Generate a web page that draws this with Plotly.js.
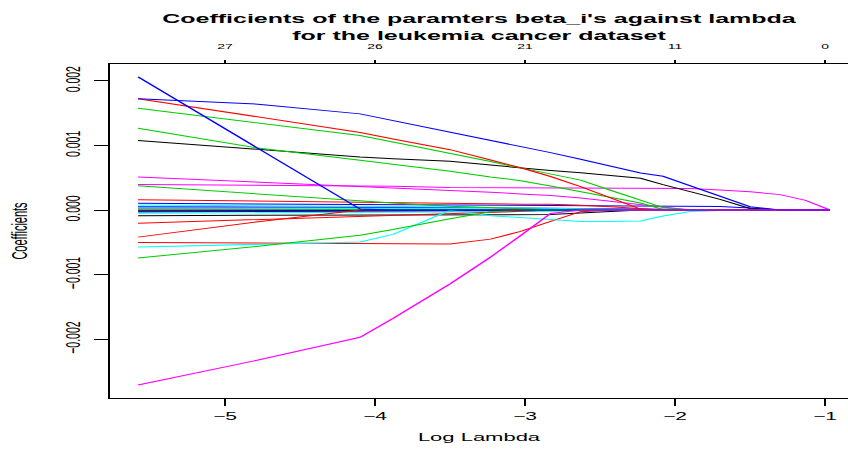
<!DOCTYPE html>
<html>
<head>
<meta charset="utf-8">
<script src="https://cdn.plot.ly/plotly-3.0.1.min.js"></script>
<style>
  html, body { margin: 0; padding: 0; background: #ffffff; overflow: hidden; }
  #wrap { width: 424px; height: 450px; transform: scaleX(2); transform-origin: 0 0; }
  #plot { width: 424px; height: 450px; }
</style>
</head>
<body>
<div id="wrap"><div id="plot"></div></div>
<script>
// Log(lambda) knots of the coefficient path
const logLambda = [-5.58, -4.78, -4.1, -3.88, -3.5, -3.23, -3.03, -2.83, -2.63, -2.43, -2.23, -2.08, -1.9, -1.7, -1.5, -1.3, -1.13, -0.967];

// Coefficient values, in units of 1e-3
const coefUnit = 1e-3;
const blueSteep   = [2.06, 0.955, 0.015, 0, 0, 0, 0, 0, 0, 0, 0, 0, 0, 0, 0, 0, 0, 0];
const blueTop     = [1.723, 1.638, 1.488, 1.385, 1.205, 1.082, 0.989, 0.888, 0.785, 0.678, 0.574, 0.523, 0.374, 0.212, 0.051, 0, 0, 0];
const redTop      = [1.723, 1.438, 1.2, 1.1, 0.934, 0.774, 0.654, 0.518, 0.363, 0.188, 0.015, 0, 0, 0, 0, 0, 0, 0];
const greenUpper  = [1.574, 1.346, 1.154, 1.054, 0.882, 0.751, 0.652, 0.557, 0.462, 0.306, 0.158, 0.038, 0, 0, 0, 0, 0, 0];
const greenLower  = [1.266, 0.958, 0.769, 0.708, 0.6, 0.512, 0.454, 0.372, 0.285, 0.195, 0.108, 0.008, 0, 0, 0, 0, 0, 0];
const blackTop    = [1.077, 0.938, 0.82, 0.795, 0.754, 0.695, 0.651, 0.612, 0.575, 0.537, 0.491, 0.392, 0.29, 0.165, 0.025, 0, 0, 0];
const magentaLong = [0.395, 0.388, 0.377, 0.369, 0.349, 0.346, 0.346, 0.346, 0.346, 0.346, 0.346, 0.343, 0.331, 0.308, 0.282, 0.238, 0.149, 0];
const magentaMid  = [0.512, 0.434, 0.366, 0.345, 0.31, 0.274, 0.249, 0.223, 0.185, 0.135, 0.083, 0.048, 0, 0, 0, 0, 0, 0];
const greenThird  = [0.374, 0.246, 0.14, 0.107, 0.06, 0.035, 0.018, 0.005, 0, 0, 0, 0, 0, 0, 0, 0, 0, 0];
const redSmallPos = [0.159, 0.135, 0.115, 0.105, 0.095, 0.092, 0.09, 0.088, 0.075, 0.05, 0.02, 0, 0, 0, 0, 0, 0, 0];
const blueSmall   = [0.103, 0.095, 0.088, 0.085, 0.078, 0.072, 0.068, 0.065, 0.062, 0.062, 0.062, 0.062, 0.06, 0.055, 0.03, 0, 0, 0];
const cyanSmall   = [0.077, 0.07, 0.06, 0.055, 0.045, 0.04, 0.035, 0.03, 0.02, 0.01, 0, 0, 0, 0, 0, 0, 0, 0];
const blueTiny    = [0.051, 0.048, 0.045, 0.043, 0.04, 0.037, 0.03, 0.025, 0.02, 0.015, 0.01, 0.005, 0, 0, 0, 0, 0, 0];
const cyanTiny    = [0.035, 0.033, 0.03, 0.028, 0.025, 0.02, 0.015, 0.01, 0, 0, 0, 0, 0, 0, 0, 0, 0, 0];
const greenTiny   = [0.02, 0.018, 0.015, 0.01, 0.005, 0, 0, 0, 0, 0, 0, 0, 0, 0, 0, 0, 0, 0];
const magentaTiny = [0.015, 0.012, 0.01, 0.01, 0.008, 0.005, 0, 0, 0, 0, 0, 0, 0, 0, 0, 0, 0, 0];
const blackTiny   = [-0.005, -0.005, -0.004, -0.004, -0.003, -0.002, 0, 0, 0, 0, 0, 0, 0, 0, 0, 0, 0, 0];
const blackNeg1   = [-0.02, -0.018, -0.015, -0.014, -0.012, -0.01, -0.008, -0.005, 0, 0, 0, 0, 0, 0, 0, 0, 0, 0];
const blueNeg     = [-0.03, -0.027, -0.024, -0.022, -0.02, -0.018, -0.015, -0.012, -0.008, -0.004, 0, 0, 0, 0, 0, 0, 0, 0];
const cyanNeg     = [-0.05, -0.045, -0.04, -0.038, -0.035, -0.03, -0.025, -0.02, -0.01, 0, 0, 0, 0, 0, 0, 0, 0, 0];
const blackNeg2   = [-0.088, -0.085, -0.08, -0.078, -0.077, -0.077, -0.075, -0.07, -0.045, -0.02, 0, 0, 0, 0, 0, 0, 0, 0];
const redGentle   = [-0.205, -0.15, -0.1, -0.08, -0.06, -0.04, -0.02, 0, 0, 0, 0, 0, 0, 0, 0, 0, 0, 0];
const redSteep    = [-0.42, -0.181, 0, 0, 0, 0, 0, 0, 0, 0, 0, 0, 0, 0, 0, 0, 0, 0];
const redLow      = [-0.503, -0.512, -0.52, -0.523, -0.528, -0.451, -0.331, -0.177, -0.026, 0, 0, 0, 0, 0, 0, 0, 0, 0];
const cyanDip     = [-0.574, -0.534, -0.495, -0.377, -0.005, -0.089, -0.115, -0.146, -0.177, -0.177, -0.17, -0.092, -0.023, -0.008, 0, 0, 0, 0];
const greenLow    = [-0.743, -0.562, -0.392, -0.303, -0.134, -0.026, 0, 0, 0, 0, 0, 0, 0, 0, 0, 0, 0, 0];
const magentaLow  = [-2.708, -2.322, -1.97, -1.678, -1.143, -0.729, -0.397, -0.055, 0, 0, 0, 0, 0, 0, 0, 0, 0, 0];

// Axis ticks
const xTicks = [-5, -4, -3, -2, -1];
const dfLabels = ['27', '26', '21', '11', '0'];
const yTicks = [-0.002, -0.001, 0, 0.001, 0.002];
const yTickText = ['\u22120.002', '\u22120.001', '0.000', '0.001', '0.002'];

const BLACK = '#000000', RED = '#FF0000', GREEN = '#00CD00', BLUE = '#0000FF', CYAN = '#00FFFF', MAGENTA = '#FF00FF';

const seriesList = [
  [blackTiny, BLACK], [magentaTiny, MAGENTA], [greenTiny, GREEN], [cyanTiny, CYAN],
  [blueTiny, BLUE], [cyanSmall, CYAN], [blueSmall, BLUE], [redSmallPos, RED],
  [blackNeg1, BLACK], [blueNeg, BLUE], [cyanNeg, CYAN], [blackNeg2, BLACK],
  [redGentle, RED], [redSteep, RED], [redLow, RED], [cyanDip, CYAN], [greenLow, GREEN],
  [greenThird, GREEN], [magentaMid, MAGENTA], [magentaLong, MAGENTA],
  [blackTop, BLACK], [greenLower, GREEN], [greenUpper, GREEN], [redTop, RED],
  [blueTop, BLUE], [blueSteep, BLUE], [magentaLow, MAGENTA]
];

const FONT = 'Liberation Sans, Arial, Helvetica, sans-serif';

const traces = seriesList.map(([vals, col]) => ({
  x: logLambda,
  y: vals.map(v => v * coefUnit),
  type: 'scatter',
  mode: 'lines',
  line: { color: col, width: 1 },
  hoverinfo: 'skip',
  showlegend: false
}));

// anchor trace for the top (degrees of freedom) axis
traces.push({ x: [logLambda[0]], y: [0], xaxis: 'x2', type: 'scatter', mode: 'lines',
  line: { color: 'rgba(0,0,0,0)', width: 0 }, hoverinfo: 'skip', showlegend: false });

const xRange = [-5.767, -0.847];

const layout = {
  width: 424, height: 450,
  margin: { l: 55, r: 0, t: 64, b: 52 },
  paper_bgcolor: '#ffffff', plot_bgcolor: '#ffffff',
  font: { family: FONT, color: '#000000' },
  title: {
    text: '<b>Coefficients of the paramters beta_i\'s against lambda<br>for the leukemia cancer dataset</b>',
    font: { family: FONT, size: 12.5, color: '#000000' },
    x: 0.5, xref: 'paper', xanchor: 'center',
    y: 1 - 23.5 / 450, yref: 'container', yanchor: 'middle'
  },
  xaxis: {
    range: xRange, tickvals: xTicks, ticks: 'outside', ticklen: 7, tickwidth: 1, tickcolor: '#000',
    showline: true, linecolor: '#000', linewidth: 1, showgrid: false, zeroline: false,
    tickfont: { family: FONT, size: 10.5, color: '#000' }, ticklabelstandoff: 1,
    title: { text: 'Log Lambda', font: { family: FONT, size: 11, color: '#000' }, standoff: 12 },
    automargin: false
  },
  xaxis2: {
    range: xRange, overlaying: 'x', side: 'top', anchor: 'y',
    tickvals: xTicks, ticktext: dfLabels, ticks: 'outside', ticklen: 3, tickwidth: 1, tickcolor: '#000',
    showline: true, linecolor: '#000', linewidth: 1, showgrid: false, zeroline: false,
    tickfont: { family: FONT, size: 7, color: '#000' }, ticklabelstandoff: 8, automargin: false
  },
  yaxis: {
    range: [-0.00291, 0.00226], tickvals: yTicks, ticktext: yTickText, tickangle: -90,
    ticks: 'outside', ticklen: 7, tickwidth: 1, tickcolor: '#000',
    showline: true, linecolor: '#000', linewidth: 1, showgrid: false, zeroline: false,
    tickfont: { family: FONT, size: 10.5, color: '#000' }, ticklabelstandoff: 3,
    title: { text: 'Coefficients', font: { family: FONT, size: 11, color: '#000' }, standoff: 13 },
    automargin: false
  }
};

Plotly.newPlot('plot', traces, layout, { staticPlot: true, displayModeBar: false });
</script>
</body>
</html>
